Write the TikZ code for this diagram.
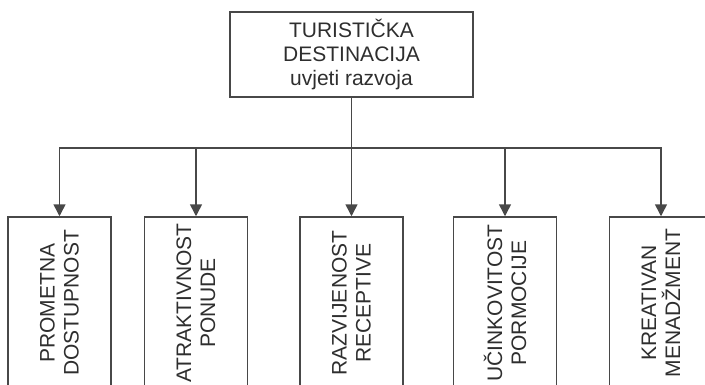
\documentclass[tikz,border=0pt]{standalone}
\usepackage{fontspec}
\setmainfont{Liberation Sans}
\usetikzlibrary{arrows.meta}
\definecolor{ln}{HTML}{484848}
\definecolor{tx}{HTML}{2E2E2E}
\begin{document}
\begin{tikzpicture}[x=1pt,y=-1pt,
  lbl/.style={font=\fontsize{21}{24}\selectfont, text=tx, align=center},
  topbox/.style={draw=ln, line width=1.5pt, lbl, minimum width=243pt, minimum height=85pt, inner sep=0pt},
  subbox/.style={draw=ln, line width=1.5pt, lbl, rotate=90, minimum width=172pt, minimum height=103pt, inner sep=0pt},
  conn/.style={draw=ln, line width=1.5pt},
  arr/.style={conn, -{Triangle[width=12pt,length=12pt]}}]
\useasboundingbox (0,0) rectangle (705,384);
\clip (0,0) rectangle (705,384);
\node[topbox] (top) at (351.5,54.5) {TURISTIČKA\\DESTINACIJA\\uvjeti razvoja};
\node[subbox] (b1) at (59.5,303) {PROMETNA\\DOSTUPNOST};
\node[subbox] (b2) at (196,303) {ATRAKTIVNOST\\PONUDE};
\node[subbox] (b3) at (351.5,303) {RAZVIJENOST\\RECEPTIVE};
\node[subbox] (b4) at (505,303) {UČINKOVITOST\\PORMOCIJE};
\node[subbox] (b5) at (661,303) {KREATIVAN\\MENADŽMENT};
\coordinate (j) at (351.5,148);
\draw[conn] (top.south) -- (j);
\foreach \b in {b1,b2,b3,b4,b5}{
  \draw[arr] (j) -| (\b.east);
}
\end{tikzpicture}
\end{document}
